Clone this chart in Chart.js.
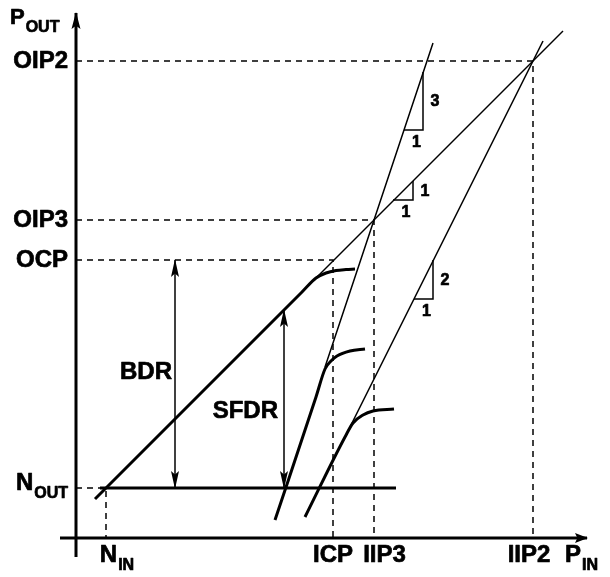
<!DOCTYPE html>
<html><head><meta charset="utf-8">
<script src="https://cdn.jsdelivr.net/npm/chart.js@4/dist/chart.umd.min.js"></script>
<style>html,body{margin:0;padding:0;background:#fff}#wrap{width:610px;height:577px}</style>
</head><body><div id="wrap"><canvas id="c" width="610" height="577"></canvas></div>
<script>
// ---- tick labels / values (P_IN on x, P_OUT on y, abstract dB units) ----
const xTickLabels = ['N_IN', 'ICP', 'IIP3', 'IIP2'];
const xTickValues = [3.0, 25.7, 29.8, 45.7];
const yTickLabels = ['N_OUT', 'OCP', 'OIP3', 'OIP2'];
const yTickValues = [5.0, 27.8, 31.8, 47.7];
const axisTitles = ['P_IN', 'P_OUT'];
const xAxisRange = [-1.6, 51.1];
const yAxisRange = [-1.9, 52.5];

// ---- fundamental (slope 1) with compression ----
const fundamentalX = [1.9, 22.6, 24.0, 25.0, 26.0, 27.0, 27.9];
const fundamentalY = [3.9, 24.6, 26.0, 26.5, 26.75, 26.85, 26.9];
const fundamentalExtX = [24.0, 48.7];
const fundamentalExtY = [26.0, 50.7];
// ---- third-order (slope 3) ----
const thirdX = [19.9, 24.0, 24.9, 25.5, 26.1, 27.4, 28.9];
const thirdY = [1.8, 14.1, 16.9, 17.7, 18.2, 18.7, 18.9];
const thirdExtX = [24.9, 35.7];
const thirdExtY = [17.1, 49.5];
// ---- second-order (slope 2) ----
const secondX = [22.9, 26.9, 27.7, 28.7, 29.7, 31.8];
const secondY = [2.1, 10.1, 11.5, 12.3, 12.7, 12.9];
const secondExtX = [27.4, 46.7];
const secondExtY = [11.1, 49.7];
// ---- output noise floor ----
const noiseX = [2.4, 32.0];
const noiseY = [5.0, 5.0];
// ---- slope triangles ----
const tri3X = [32.8, 34.7, 34.7], tri3Y = [40.8, 40.8, 46.6], tri3Labels = ['3', '1'];
const tri1X = [31.7, 33.7, 33.7], tri1Y = [33.8, 33.8, 35.7], tri1Labels = ['1', '1'];
const tri2X = [33.8, 35.7, 35.7], tri2Y = [23.9, 23.9, 27.8], tri2Labels = ['2', '1'];
// ---- dynamic range arrows ----
const rangeLabels = ['BDR', 'SFDR'];
const rangeX = [9.9, 20.8];
const rangeLow = [5.0, 5.0];
const rangeHigh = [27.8, 22.8];

const pts = (xs, ys) => xs.map((x, i) => ({x, y: ys[i]}));
const K = '#000';
const thick = 3, thin = 1.5;

const datasets = [];
function add(data, opts) { datasets.push(Object.assign({data, showLine: true, borderColor: K, backgroundColor: K, pointRadius: 0, fill: false, tension: 0, borderWidth: thin}, opts)); }

// projection (dashed) lines
for (let i = 0; i < xTickValues.length; i++) {
  add([{x: 0, y: yTickValues[i]}, {x: xTickValues[i], y: yTickValues[i]}, {x: xTickValues[i], y: 0}], {borderDash: [6, 5], borderWidth: 1.5});
}
// axes
add([{x: xAxisRange[0], y: 0}, {x: xAxisRange[1], y: 0}], {borderWidth: 3, arrow: {end: true, len: 12, half: 5}});
add([{x: 0, y: yAxisRange[0]}, {x: 0, y: yAxisRange[1]}], {borderWidth: 3, arrow: {end: true, len: 16, half: 4.5}});
// responses
add(pts(fundamentalExtX, fundamentalExtY), {borderWidth: thin});
add(pts(thirdExtX, thirdExtY), {borderWidth: thin});
add(pts(secondExtX, secondExtY), {borderWidth: thin});
add(pts(fundamentalX, fundamentalY), {borderWidth: thick, cubicInterpolationMode: 'monotone'});
add(pts(thirdX, thirdY), {borderWidth: thick, cubicInterpolationMode: 'monotone'});
add(pts(secondX, secondY), {borderWidth: thick, cubicInterpolationMode: 'monotone'});
add(pts(noiseX, noiseY), {borderWidth: thick});
// triangles
[[tri3X, tri3Y, tri3Labels], [tri1X, tri1Y, tri1Labels], [tri2X, tri2Y, tri2Labels]].forEach(t => add(pts(t[0], t[1]), {borderWidth: 1.5, triLabels: t[2]}));
// range arrows
for (let i = 0; i < rangeX.length; i++) {
  add([{x: rangeX[i], y: rangeLow[i]}, {x: rangeX[i], y: rangeHigh[i]}], {borderWidth: 1.5, arrow: {start: true, end: true, len: 17, half: 4}, rangeLabel: i});
}

const FONT = '"Liberation Sans", Arial, Helvetica, sans-serif';
const TEXT_STROKE = 0.7;
function arrowHead(ctx, tx, ty, fx, fy, len, half) {
  const a = Math.atan2(ty - fy, tx - fx), c = Math.cos(a), s = Math.sin(a);
  ctx.beginPath();
  ctx.moveTo(tx + c * 1, ty + s * 1);
  ctx.lineTo(tx - len * c + half * s, ty - len * s - half * c);
  ctx.lineTo(tx - len * c * 0.8, ty - len * s * 0.8);
  ctx.lineTo(tx - len * c - half * s, ty - len * s + half * c);
  ctx.closePath(); ctx.fill();
}
function txt(ctx, s, x, y) {
  ctx.fillText(s, x, y);
  ctx.lineWidth = TEXT_STROKE; ctx.strokeStyle = K; ctx.lineJoin = 'round';
  ctx.strokeText(s, x, y);
}
function subText(ctx, label, x, y, size, subSize, align) {
  const parts = label.split('_');
  const main = parts[0], sub = parts[1];
  ctx.font = 'bold ' + size + 'px ' + FONT; const w1 = ctx.measureText(main).width;
  let w2 = 0;
  if (sub) { ctx.font = 'bold ' + subSize + 'px ' + FONT; w2 = ctx.measureText(sub).width + 1; }
  const total = w1 + w2;
  const left = align === 'right' ? x - total : align === 'center' ? x - total / 2 : x;
  ctx.textAlign = 'left'; ctx.textBaseline = 'alphabetic';
  ctx.font = 'bold ' + size + 'px ' + FONT; txt(ctx, main, left, y);
  if (sub) { ctx.font = 'bold ' + subSize + 'px ' + FONT; txt(ctx, sub, left + w1 + 1, y + 8); }
}

const xLabelDx = [11, 0, 10.5, -4];

const deco = {
  id: 'deco',
  afterDatasetsDraw(chart) {
    const ctx = chart.ctx, xs = chart.scales.x, ys = chart.scales.y;
    ctx.save();
    ctx.fillStyle = K;
    chart.data.datasets.forEach((ds, i) => {
      const meta = chart.getDatasetMeta(i);
      const p = meta.data;
      if (ds.arrow) {
        const n = p.length;
        if (ds.arrow.end) arrowHead(ctx, p[n - 1].x, p[n - 1].y, p[n - 2].x, p[n - 2].y, ds.arrow.len, ds.arrow.half);
        if (ds.arrow.start) arrowHead(ctx, p[0].x, p[0].y, p[1].x, p[1].y, ds.arrow.len, ds.arrow.half);
      }
      if (ds.triLabels) {
        ctx.font = 'bold 16px ' + FONT; ctx.textAlign = 'center'; ctx.textBaseline = 'middle';
        txt(ctx, ds.triLabels[0], p[1].x + 12, (p[1].y + p[2].y) / 2 + 1);
        txt(ctx, ds.triLabels[1], (p[0].x + p[1].x) / 2 + 3, p[1].y + 13);
      }
      if (ds.rangeLabel !== undefined) {
        const k = ds.rangeLabel;
        const mid = (p[0].y + p[1].y) / 2;
        ctx.font = 'bold 24px ' + FONT; ctx.textAlign = 'right'; ctx.textBaseline = 'alphabetic';
        if (k === 0) txt(ctx, rangeLabels[k], p[0].x - 3, mid + 5);
        else txt(ctx, rangeLabels[k], p[0].x - 6, mid + 19);
      }
    });
    const ax = xs.getPixelForValue(0), ay = ys.getPixelForValue(0);
    yTickLabels.forEach((lab, i) => {
      const py = ys.getPixelForValue(yTickValues[i]);
      subText(ctx, lab, ax - 8, py + (lab.includes('_') ? 2 : 7), 24, 16, 'right');
    });
    xTickLabels.forEach((lab, i) => {
      const px = xs.getPixelForValue(xTickValues[i]);
      subText(ctx, lab, px + xLabelDx[i], ay + 24, 24, 16, 'center');
    });
    subText(ctx, axisTitles[0], xs.getPixelForValue(xAxisRange[1]) - 22, ay + 24, 24, 16, 'left');
    subText(ctx, axisTitles[1], ax - 66, ys.getPixelForValue(yAxisRange[1]) + 11, 22, 16, 'left');
    ctx.restore();
  }
};

new Chart(document.getElementById('c'), {
  type: 'scatter',
  data: {datasets},
  options: {
    responsive: false, animation: false, devicePixelRatio: 1,
    layout: {padding: 0},
    plugins: {legend: {display: false}, tooltip: {enabled: false}},
    elements: {line: {borderCapStyle: 'butt', borderJoinStyle: 'miter'}},
    scales: {
      x: {type: 'linear', min: -7.6, max: 53.4, display: false},
      y: {type: 'linear', min: -3.9, max: 53.8, display: false}
    }
  },
  plugins: [deco]
});
</script>
</body></html>
